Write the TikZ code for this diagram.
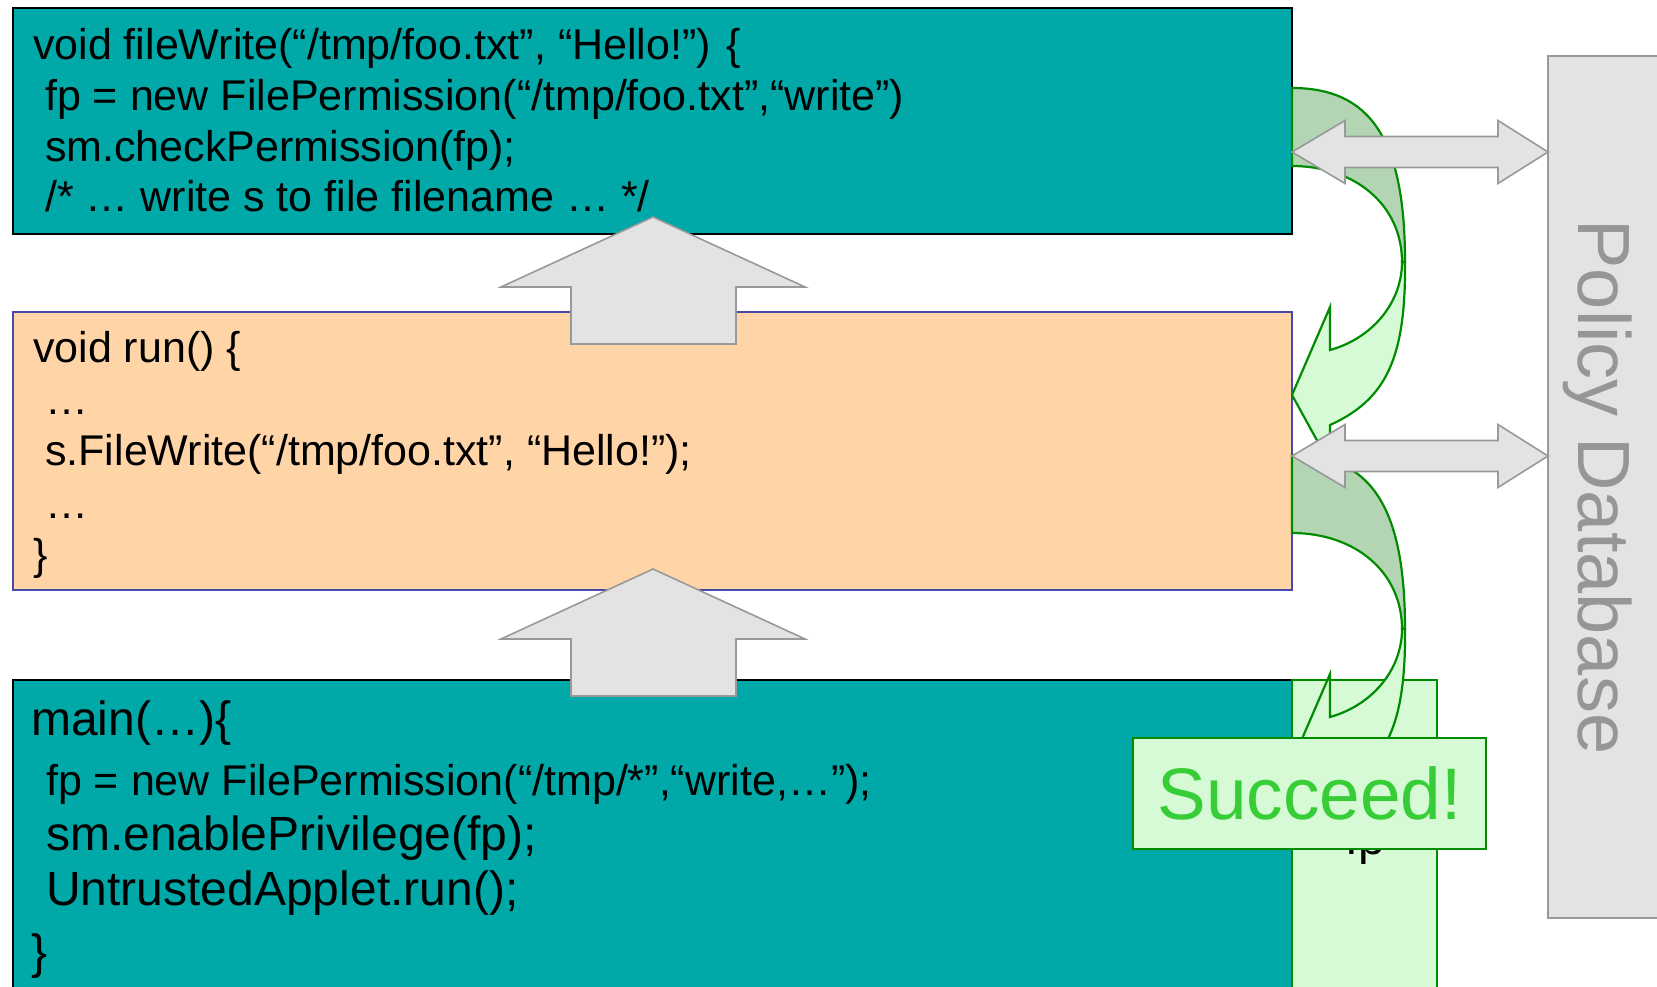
\documentclass[tikz,border=0pt]{standalone}
\usepackage{fontspec}
\setmainfont{Liberation Sans}
\definecolor{tealbox}{RGB}{0,168,168}
\definecolor{peach}{RGB}{255,213,168}
\definecolor{peachedge}{RGB}{72,72,175}
\definecolor{lightgreen}{RGB}{213,250,213}
\definecolor{darkface}{RGB}{179,213,179}
\definecolor{greenline}{RGB}{0,140,0}
\definecolor{succeedgreen}{RGB}{55,205,55}
\definecolor{arrowgray}{RGB}{227,227,227}
\definecolor{arrowedge}{RGB}{153,153,153}
\definecolor{dbtext}{RGB}{150,150,150}
\tikzset{
  codetext/.style={anchor=base west, inner sep=0pt, font=\fontsize{43}{50}\selectfont},
  codebig/.style={anchor=base west, inner sep=0pt, font=\fontsize{48}{56}\selectfont},
  blockarrow/.style={fill=arrowgray, draw=arrowedge, line width=1.6pt, line join=miter},
  backface/.style={fill=darkface, draw=greenline, line width=2.2pt, line join=miter},
  frontface/.style={fill=lightgreen, draw=greenline, line width=2.2pt, line join=miter},
  tealstyle/.style={fill=tealbox, draw=black, line width=2.4pt},
}
\begin{document}
\begin{tikzpicture}[x=1pt, y=-1pt]
\clip (0,0) rectangle (1657,987);
% boxes
\path[tealstyle] (13,8) rectangle (1292,234);
\path[fill=peach, draw=peachedge, line width=2.2pt] (13,312) rectangle (1292,590);
\path[tealstyle] (13,680) rectangle (1292,1000);
\path[fill=lightgreen, draw=greenline, line width=2.2pt] (1292,680) rectangle (1437,1000);
% top box text
\node[codetext] (t1) at (33,60) {void fileWrite(“/tmp/foo.txt”, “Hello!”) \{};
\node[codetext] (t2) at (45,111) {fp = new FilePermission(“/tmp/foo.txt”,“write”)};
\node[codetext] (t3) at (45,162) {sm.checkPermission(fp);};
\node[codetext] (t4) at (45,212) {/* … write s to file filename … */};
% orange box text
\node[codetext] (r1) at (33,362) {void run() \{};
\node[codetext] (r2) at (45,414) {…};
\node[codetext] (r3) at (45,465) {s.FileWrite(“/tmp/foo.txt”, “Hello!”);};
\node[codetext] (r4) at (45,518) {…};
\node[codetext] (r5) at (33,569) {\}};
% bottom box text
\node[codebig] (m1) at (31,735) {main(…)\{};
\node[codetext] (m2) at (46,795) {fp = new FilePermission(“/tmp/*”,“write,…”);};
\node[codebig] (m3) at (46,850) {sm.enablePrivilege(fp);};
\node[codebig] (m4) at (46,905) {UntrustedApplet.run();};
\node[codebig] (m5) at (31,968) {\}};
\node[codebig] (fp) at (1345,854) {fp};
% curved green arrows
\foreach \dy in {0,367}{
  \draw[backface] (1292,88+\dy) .. controls (1371,88+\dy) and (1405,140+\dy) .. (1405,262+\dy)
     -- (1402,262+\dy) .. controls (1402,205+\dy) and (1355,166+\dy) .. (1292,166+\dy) -- cycle;
  \draw[frontface] (1402,262+\dy) .. controls (1402,302+\dy) and (1373,338+\dy) .. (1330,350+\dy)
     -- (1330,307+\dy) -- (1292,395+\dy) -- (1330,464+\dy) -- (1330,425+\dy)
     .. controls (1385,400+\dy) and (1406,360+\dy) .. (1405,262+\dy) -- cycle;
}
% policy database
\path[fill=arrowgray, draw=arrowedge, line width=2pt] (1548,56) rectangle (1680,918);
\node[rotate=-90, inner sep=0pt, text=dbtext, font=\fontsize{74}{80}\selectfont] (db) at (1598,487) {Policy Database};
% double arrows
\foreach \yc in {152,456}{
  \draw[blockarrow] (1292,\yc) -- (1345,\yc-31.5) -- (1345,\yc-15.5) -- (1498,\yc-15.5) -- (1498,\yc-31.5)
     -- (1548,\yc) -- (1498,\yc+31.5) -- (1498,\yc+15.5) -- (1345,\yc+15.5) -- (1345,\yc+31.5) -- cycle;
}
% up arrows
\foreach \ty in {217,569}{
  \draw[blockarrow] (653,\ty) -- (805,\ty+70) -- (736,\ty+70) -- (736,\ty+127) -- (571,\ty+127)
     -- (571,\ty+70) -- (501,\ty+70) -- cycle;
}
% succeed
\node[draw=greenline, fill=lightgreen, line width=2.4pt, minimum width=353pt, minimum height=111pt,
      inner sep=0pt, text=succeedgreen, font=\fontsize{73}{80}\selectfont] (succeed) at (1309.5,793.5) {Succeed!};
\end{tikzpicture}
\end{document}
